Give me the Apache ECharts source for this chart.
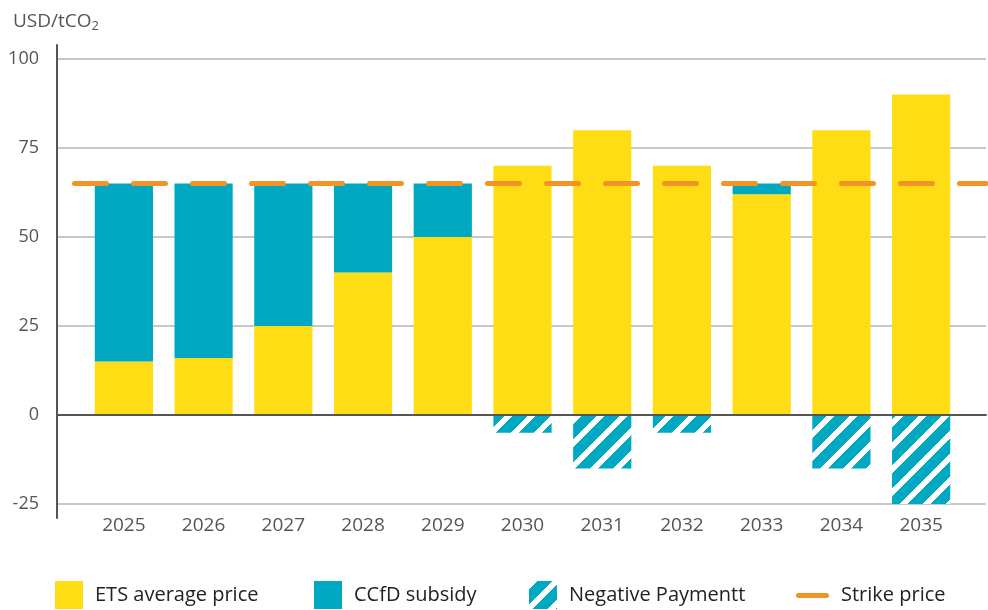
<!DOCTYPE html>
<html>
<head>
<meta charset="utf-8">
<script src="https://cdn.jsdelivr.net/npm/echarts@6/dist/echarts.min.js"></script>
<style>
  html, body { margin: 0; padding: 0; background: #fff; }
  #chart { width: 988px; height: 610px; }
</style>
</head>
<body>
<div id="chart"></div>
<script>
const years = ['2025', '2026', '2027', '2028', '2029', '2030', '2031', '2032', '2033', '2034', '2035'];
const etsPrice = [15, 16, 25, 40, 50, 70, 80, 70, 62, 80, 90];
const subsidy = [50, 49, 40, 25, 15, 0, 0, 0, 3, 0, 0];
const negativePayment = [0, 0, 0, 0, 0, -5, -15, -5, 0, -15, -25];
const strikePrice = [65, 65, 65, 65, 65, 65, 65, 65, 65, 65, 65];

const FONT = '"Open Sans", sans-serif';
const YELLOW = '#FFDD15';
const TEAL = '#00A9C1';
const ORANGE = '#F39325';

// diagonal "/" hatch for negative payments, drawn pixel by pixel so it tiles cleanly
const makeHatch = () => {
  const s = 23;
  const w = 8;
  const c = document.createElement('canvas');
  c.width = s;
  c.height = s;
  const ctx = c.getContext('2d');
  const img = ctx.createImageData(s, s);
  for (let y = 0; y < s; y++) {
    for (let x = 0; x < s; x++) {
      const i = (y * s + x) * 4;
      const white = (x + y) % s < w;
      img.data[i] = white ? 255 : 0;
      img.data[i + 1] = white ? 255 : 169;
      img.data[i + 2] = white ? 255 : 193;
      img.data[i + 3] = 255;
    }
  }
  ctx.putImageData(img, 0, 0);
  return c;
};
const hatch = { image: makeHatch(), repeat: 'repeat' };

const legendBase = {
  top: 581,
  padding: 0,
  itemWidth: 28,
  itemHeight: 28,
  icon: 'rect',
  itemStyle: { borderWidth: 0 },
  textStyle: { fontSize: 20, color: '#222', fontFamily: FONT, padding: [0, 0, 0, 7] }
};

const chart = echarts.init(document.getElementById('chart'));

const option = {
  animation: false,
  backgroundColor: '#fff',
  textStyle: { fontFamily: FONT },
  title: {
    text: '{a|USD/tCO}{b|2}',
    left: 8,
    top: 5,
    textStyle: {
      fontWeight: 'normal',
      rich: {
        a: { fontSize: 19, color: '#555', fontFamily: FONT, fontWeight: 'normal' },
        b: { fontSize: 13, color: '#555', fontFamily: FONT, fontWeight: 'normal', padding: [10, 0, 0, 0] }
      }
    }
  },
  legend: [
    Object.assign({}, legendBase, { left: 55, data: ['ETS average price'] }),
    Object.assign({}, legendBase, { left: 314, data: ['CCfD subsidy'] }),
    Object.assign({}, legendBase, { left: 529, data: ['Negative Paymentt'] }),
    Object.assign({}, legendBase, {
      left: 796,
      itemWidth: 33,
      data: [{ name: 'Strike price', icon: 'path://M0,0 M2.5,12 L30.5,12 A2.5,2.5 0 0 1 30.5,17 L2.5,17 A2.5,2.5 0 0 1 2.5,12 Z M33,28' }]
    })
  ],
  grid: [
    { left: 84, right: 27, top: 59, bottom: 106 },
    { left: 57, right: 2, top: 59, bottom: 106 },
    { left: 57, right: 2, top: 45, bottom: 92 }
  ],
  xAxis: [
    {
      type: 'category',
      gridIndex: 0,
      data: years,
      axisLine: { show: false, onZero: false },
      axisTick: { show: false },
      axisLabel: { color: '#555', fontSize: 19, margin: 12, fontFamily: FONT }
    },
    {
      type: 'category',
      gridIndex: 1,
      data: years,
      boundaryGap: false,
      z: 3,
      axisLine: { show: true, onZero: true, lineStyle: { color: '#555', width: 2 } },
      axisTick: { show: false },
      axisLabel: { show: false }
    },
    { type: 'value', gridIndex: 2, show: false }
  ],
  yAxis: [
    { type: 'value', gridIndex: 0, min: -25, max: 100, interval: 25, show: false },
    {
      type: 'value',
      gridIndex: 1,
      min: -25,
      max: 100,
      interval: 25,
      axisLine: { show: false },
      axisTick: { show: false },
      axisLabel: { color: '#555', fontSize: 18, margin: 18, fontFamily: FONT },
      splitLine: { lineStyle: { color: '#c8c8c8', width: 2 } }
    },
    {
      type: 'value',
      gridIndex: 2,
      axisLine: { show: true, lineStyle: { color: '#555', width: 2 } },
      axisTick: { show: false },
      axisLabel: { show: false },
      splitLine: { show: false }
    }
  ],
  series: [
    {
      name: 'ETS average price',
      type: 'bar',
      stack: 'a',
      xAxisIndex: 0,
      yAxisIndex: 0,
      barCategoryGap: '27%',
      itemStyle: { color: YELLOW },
      data: etsPrice
    },
    {
      name: 'CCfD subsidy',
      type: 'bar',
      stack: 'a',
      xAxisIndex: 0,
      yAxisIndex: 0,
      itemStyle: { color: TEAL },
      data: subsidy
    },
    {
      name: 'Negative Paymentt',
      type: 'bar',
      stack: 'a',
      xAxisIndex: 0,
      yAxisIndex: 0,
      itemStyle: { color: hatch },
      data: negativePayment
    },
    {
      name: 'Strike price',
      type: 'line',
      xAxisIndex: 1,
      yAxisIndex: 1,
      z: 5,
      symbol: 'none',
      itemStyle: { color: ORANGE },
      lineStyle: { color: ORANGE, width: 5, type: [32, 27], cap: 'round', dashOffset: 41.5 },
      data: strikePrice
    }
  ]
};

chart.setOption(option);
</script>
</body>
</html>
